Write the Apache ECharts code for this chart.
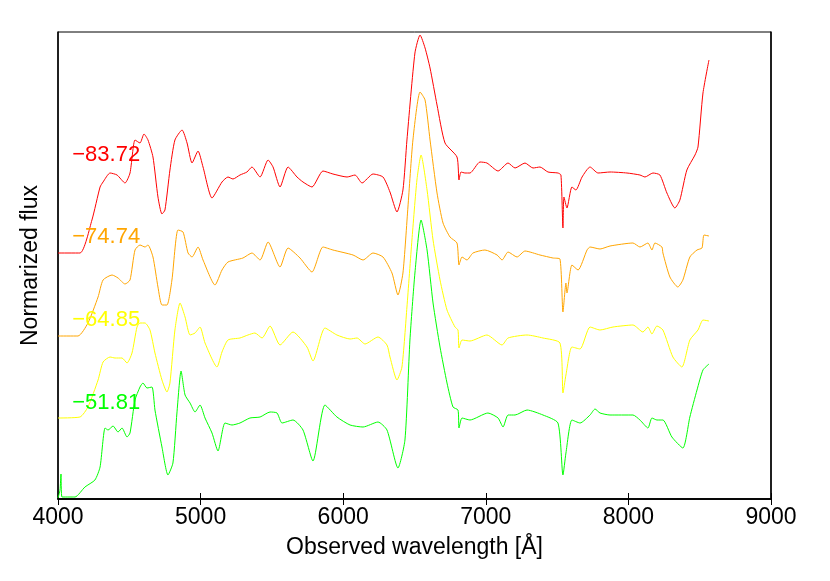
<!DOCTYPE html>
<html><head><meta charset="utf-8">
<script src="https://cdn.jsdelivr.net/npm/echarts@6/dist/echarts.min.js"></script>
<style>html,body{margin:0;padding:0;background:#fff}#c{width:830px;height:581px}</style>
</head><body><div id="c"></div>
<script>
// wavelength [Å], normalized flux (arbitrary offset units)
var spectrumRed = [[4000,2.46],[4154,2.46],[4238,2.79],[4295,3.12],[4316,3.17],[4365,3.26],[4414,3.24],[4470,3.16],[4505,3.26],[4540,3.59],[4575,3.56],[4603,3.65],[4631,3.59],[4666,3.42],[4701,3.02],[4729,2.85],[4750,2.89],[4785,3.29],[4820,3.59],[4870,3.69],[4905,3.56],[4940,3.36],[4982,3.48],[5017,3.32],[5080,3.01],[5150,3.17],[5192,3.22],[5227,3.20],[5276,3.24],[5325,3.27],[5360,3.32],[5417,3.22],[5473,3.39],[5508,3.32],[5557,3.12],[5613,3.32],[5676,3.22],[5718,3.17],[5781,3.12],[5858,3.28],[5928,3.25],[6027,3.22],[6083,3.24],[6132,3.16],[6209,3.25],[6279,3.22],[6328,3.07],[6377,2.87],[6419,3.09],[6447,3.59],[6503,4.46],[6539,4.64],[6574,4.51],[6609,4.31],[6658,3.94],[6714,3.56],[6798,3.42],[6812,3.19],[6826,3.27],[6854,3.26],[6889,3.26],[6959,3.37],[7008,3.36],[7086,3.28],[7156,3.36],[7205,3.31],[7275,3.36],[7331,3.31],[7380,3.32],[7436,3.27],[7506,3.26],[7527,3.24],[7541,2.71],[7548,3.02],[7569,2.91],[7604,3.12],[7632,3.09],[7675,3.22],[7731,3.32],[7787,3.26],[7871,3.27],[7990,3.26],[8081,3.24],[8116,3.22],[8172,3.26],[8221,3.24],[8270,3.06],[8326,2.91],[8361,2.99],[8410,3.29],[8467,3.44],[8488,3.52],[8523,4.06],[8565,4.39]];
var spectrumOrange = [[4000,1.63],[4140,1.63],[4210,1.76],[4281,2.02],[4316,2.19],[4379,2.24],[4421,2.21],[4470,2.15],[4505,2.19],[4540,2.49],[4575,2.54],[4610,2.52],[4631,2.54],[4666,2.42],[4701,2.12],[4729,1.94],[4764,1.94],[4799,2.19],[4841,2.69],[4877,2.67],[4912,2.46],[4940,2.42],[4982,2.52],[5017,2.39],[5101,2.14],[5150,2.29],[5192,2.37],[5297,2.41],[5360,2.46],[5417,2.39],[5473,2.57],[5557,2.32],[5613,2.51],[5697,2.41],[5781,2.27],[5858,2.52],[5928,2.49],[6069,2.44],[6139,2.39],[6209,2.46],[6279,2.42],[6342,2.26],[6384,2.04],[6419,2.26],[6454,2.92],[6489,3.59],[6539,4.07],[6574,3.99],[6609,3.59],[6658,3.06],[6700,2.76],[6749,2.62],[6798,2.56],[6812,2.34],[6833,2.42],[6868,2.39],[6910,2.46],[6994,2.49],[7079,2.44],[7114,2.39],[7156,2.47],[7219,2.42],[7275,2.48],[7380,2.44],[7471,2.41],[7520,2.40],[7541,1.87],[7562,2.16],[7569,2.06],[7604,2.34],[7647,2.29],[7710,2.49],[7731,2.52],[7801,2.50],[7871,2.53],[8032,2.56],[8081,2.52],[8137,2.56],[8165,2.49],[8186,2.56],[8235,2.52],[8242,2.46],[8291,2.22],[8347,2.12],[8382,2.19],[8431,2.42],[8481,2.49],[8516,2.51],[8530,2.64],[8565,2.63]];
var spectrumYellow = [[4000,0.81],[4154,0.82],[4210,0.92],[4281,1.19],[4316,1.37],[4365,1.42],[4400,1.41],[4449,1.41],[4484,1.36],[4519,1.46],[4554,1.72],[4575,1.76],[4610,1.76],[4645,1.69],[4680,1.46],[4729,1.19],[4764,1.07],[4785,1.16],[4820,1.69],[4856,1.96],[4891,1.82],[4926,1.64],[4961,1.66],[4996,1.72],[5031,1.56],[5115,1.32],[5150,1.47],[5192,1.59],[5276,1.61],[5332,1.64],[5381,1.66],[5431,1.61],[5487,1.73],[5557,1.54],[5648,1.67],[5746,1.52],[5788,1.38],[5872,1.71],[5956,1.64],[6048,1.60],[6097,1.61],[6153,1.55],[6244,1.62],[6307,1.54],[6328,1.42],[6377,1.19],[6412,1.32],[6447,1.92],[6482,2.59],[6517,3.19],[6546,3.44],[6588,3.09],[6630,2.59],[6679,2.19],[6728,1.89],[6784,1.72],[6805,1.69],[6812,1.51],[6833,1.59],[6889,1.58],[7008,1.64],[7114,1.54],[7156,1.61],[7289,1.64],[7401,1.61],[7520,1.56],[7541,1.06],[7562,1.24],[7604,1.52],[7661,1.50],[7731,1.72],[7801,1.69],[7892,1.72],[8032,1.74],[8102,1.67],[8137,1.72],[8165,1.65],[8200,1.73],[8242,1.69],[8312,1.42],[8375,1.32],[8431,1.59],[8488,1.69],[8523,1.79],[8565,1.78]];
var spectrumGreen = [[4000,0.01],[4014,0.09],[4021,0.25],[4028,0.02],[4119,0.02],[4189,0.12],[4259,0.19],[4295,0.32],[4330,0.71],[4351,0.69],[4386,0.73],[4421,0.67],[4449,0.71],[4484,0.62],[4505,0.66],[4540,0.99],[4575,1.12],[4596,1.16],[4624,1.11],[4659,1.12],[4680,0.89],[4729,0.52],[4771,0.24],[4806,0.36],[4834,0.86],[4863,1.28],[4891,1.04],[4926,0.96],[4961,0.87],[4996,0.94],[5031,0.81],[5080,0.66],[5122,0.48],[5171,0.76],[5220,0.74],[5276,0.76],[5346,0.81],[5417,0.82],[5487,0.87],[5536,0.86],[5571,0.76],[5648,0.79],[5718,0.69],[5788,0.38],[5872,0.94],[5956,0.82],[6048,0.74],[6139,0.72],[6244,0.77],[6307,0.69],[6384,0.31],[6433,0.59],[6468,1.59],[6503,2.26],[6546,2.79],[6588,2.49],[6630,1.96],[6679,1.52],[6728,1.16],[6770,0.92],[6805,0.89],[6812,0.71],[6833,0.81],[6889,0.79],[7015,0.86],[7086,0.81],[7121,0.72],[7156,0.84],[7205,0.84],[7289,0.89],[7401,0.84],[7506,0.76],[7541,0.24],[7562,0.46],[7604,0.79],[7661,0.76],[7731,0.84],[7766,0.90],[7801,0.86],[7871,0.84],[8032,0.84],[8081,0.79],[8137,0.71],[8165,0.81],[8200,0.79],[8242,0.79],[8305,0.62],[8382,0.51],[8431,0.82],[8481,1.09],[8523,1.29],[8565,1.35]];
var epochLabels = ['\u221283.72','\u221274.74','\u221264.85','\u221251.81'];
var epochLabelWave = 4100;
var epochLabelFlux = [3.44, 2.62, 1.79, 0.96];
var xTicks = [4000,5000,6000,7000,8000,9000];

var colors = ['#ff0000','#ffa500','#ffff00','#00ff00'];
var spectra = [spectrumRed, spectrumOrange, spectrumYellow, spectrumGreen];
var font = '"Liberation Sans", Arial, sans-serif';
var chart = echarts.init(document.getElementById('c'), null, {renderer:'canvas'});
var series = spectra.map(function(d,i){
  return {type:'line', data:d, showSymbol:false, symbol:'none', smooth:0.2,
    lineStyle:{color:colors[i], width:1}, animation:false, z:2};
});
var axisCommon = {type:'value', min:xTicks[0], max:xTicks[xTicks.length-1], interval:xTicks[1]-xTicks[0],
  axisLine:{show:true, lineStyle:{color:'#000', width:1.5}}, axisTick:{show:true, inside:true, length:6, lineStyle:{color:'#000'}},
  splitLine:{show:false}};
chart.setOption({
  animation:false,
  grid:{left:58, right:59, top:32, bottom:82, show:true, borderColor:'#000', borderWidth:1, backgroundColor:'transparent'},
  xAxis:[Object.assign({}, axisCommon, {position:'bottom',
    axisLabel:{fontSize:23, color:'#000', fontFamily:font, margin:7, formatter:function(v){return String(v);}},
    name:'Observed wavelength [\u00c5]', nameLocation:'middle', nameGap:37, nameTextStyle:{fontSize:23, color:'#000', fontFamily:font}}),
   Object.assign({}, axisCommon, {position:'top', axisLabel:{show:false}})],
  yAxis:[{type:'value', min:0, max:4.67, axisLine:{show:true, lineStyle:{color:'#000', width:1.5}}, axisTick:{show:false},
    axisLabel:{show:false}, splitLine:{show:false},
    name:'Normarized flux', nameLocation:'middle', nameGap:16, nameRotate:90, nameTextStyle:{fontSize:23, color:'#000', fontFamily:font}},
   {type:'value', min:0, max:4.67, position:'right', axisLine:{show:true, lineStyle:{color:'#000', width:1.5}}, axisTick:{show:false}, axisLabel:{show:false}, splitLine:{show:false}}],
  series: series
});
var graphics = epochLabels.map(function(t,i){
  var p = chart.convertToPixel({xAxisIndex:0, yAxisIndex:0}, [epochLabelWave, epochLabelFlux[i]]);
  return {type:'text', x:p[0], y:p[1], z:10,
    style:{text:t, fill:colors[i], font:'22px ' + font, textVerticalAlign:'middle', verticalAlign:'middle', textAlign:'left', align:'left'}};
});
chart.setOption({graphic:graphics});
</script></body></html>
